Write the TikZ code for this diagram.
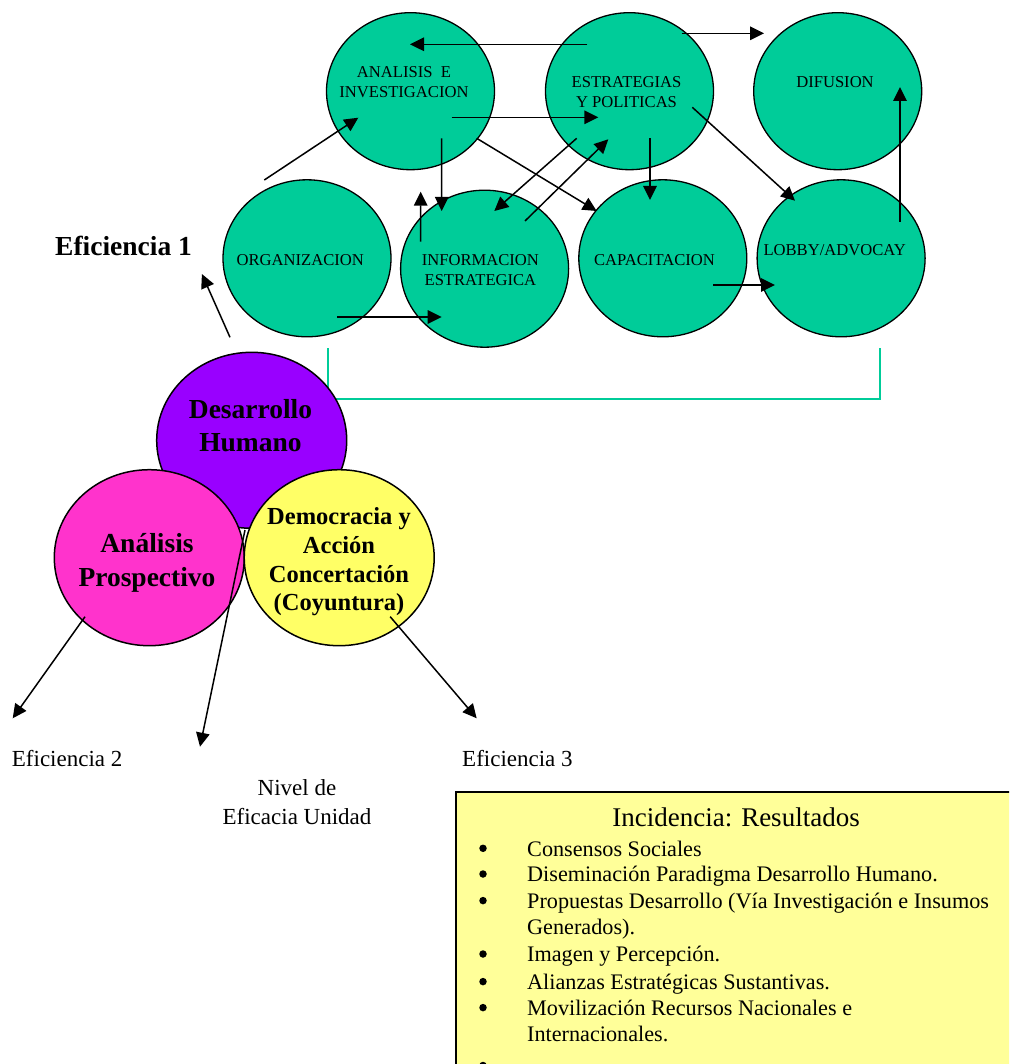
\documentclass[tikz,border=0pt]{standalone}
\usepackage{fontspec}
\setmainfont{Liberation Serif}
\usetikzlibrary{arrows.meta,shapes.geometric}
\definecolor{tealc}{HTML}{00CC99}
\definecolor{purpc}{HTML}{9900FF}
\definecolor{pinkc}{HTML}{FF33CC}
\definecolor{yelc}{HTML}{FFFF66}
\definecolor{boxc}{HTML}{FFFF99}
\begin{document}
\begin{tikzpicture}[x=1pt,y=-1pt,
  gc/.style={ellipse, draw=black, line width=1.3pt, fill=tealc, minimum width=168, minimum height=157, inner sep=0},
  vc/.style={ellipse, draw=black, line width=1.5pt, minimum width=190, minimum height=176, inner sep=0},
  gt/.style={font=\fontsize{16.6}{20}\selectfont, align=center, inner sep=0, anchor=base},
  vt/.style={font=\bfseries\fontsize{27.5}{33.5}\selectfont, align=center, inner sep=0, anchor=base},
  lab/.style={font=\fontsize{23}{28.5}\selectfont, inner sep=0, anchor=base west},
  itm/.style={font=\fontsize{22.2}{26.4}\selectfont, inner sep=0, anchor=base west},
  bul/.style={circle, fill=black, inner sep=0, minimum size=7.5},
  arr/.style={line width=1.5pt, -{Triangle[length=14pt,width=13.5pt]}},
  brk/.style={draw=tealc, line width=1.8pt}]
\useasboundingbox (0,0) rectangle (1009,1064);
\clip (0,0) rectangle (1009,1064);

% green circles
\node[gc] (ana) at (410.5,91.2) {};
\node[gc] (est) at (629.5,91.2) {};
\node[gc] (dif) at (837.7,91.2) {};
\node[gc] (org) at (307,258.3) {};
\node[gc] (inf) at (484.6,268.7) {};
\node[gc] (cap) at (662.8,258.3) {};
\node[gc] (lob) at (841.1,258.3) {};

\node[gt] (tana) at (404,97.7) {ANALISIS\ \ E\\INVESTIGACION};
\node[gt] (test) at (626.5,107.7) {ESTRATEGIAS\\Y POLITICAS};
\node[gt] (tdif) at (835,87.3) {DIFUSION};
\node[gt] (torg) at (300.3,265.7) {ORGANIZACION};
\node[gt] (tinf) at (480.4,285) {INFORMACION\\ESTRATEGICA};
\node[gt] (tcap) at (654.5,265.7) {CAPACITACION};
\node[gt] (tlob) at (834.7,255.7) {LOBBY/ADVOCAY};

% arrows among green circles
\draw[arr] ([shift={(-42.2,-46.9)}]est.center) -- ([shift={(-0.5,-46.9)}]ana.center);
\draw[arr] ([shift={(41.2,26.1)}]ana.center) -- ([shift={(-31.2,26.1)}]est.center);
\draw[arr] ([shift={(-42.7,-78.3)}]org.center) -- ([shift={(-52.2,26.5)}]ana.center);
\draw[arr] ([shift={(31.2,47.1)}]ana.center) -- ([shift={(-42.9,-57.7)}]inf.center);
\draw[arr] ([shift={(66.2,47.1)}]ana.center) -- ([shift={(-66.1,-47.3)}]cap.center);
\draw[arr] ([shift={(-52.8,47.1)}]est.center) -- ([shift={(9.7,-57.7)}]inf.center);
\draw[arr] ([shift={(40.4,-47.7)}]inf.center) -- ([shift={(-21.2,48.1)}]est.center);
\draw[arr] ([shift={(20.5,47.1)}]est.center) -- ([shift={(-12.8,-58.3)}]cap.center);
\draw[arr] ([shift={(-63.9,-27)}]inf.center) -- ([shift={(10.2,100.5)}]ana.center);
\draw[arr] ([shift={(52.2,-57.9)}]est.center) -- ([shift={(-73.7,-57.9)}]dif.center);
\draw[arr] ([shift={(62.8,16.1)}]est.center) -- ([shift={(-46.1,-57.6)}]lob.center);
\draw[arr] ([shift={(58.9,-36.6)}]lob.center) -- ([shift={(62.3,-4.2)}]dif.center);
\draw[arr] ([shift={(30,58.7)}]org.center) -- ([shift={(-43,48.3)}]inf.center);
\draw[arr] ([shift={(50.2,26.7)}]cap.center) -- ([shift={(-66.1,26.7)}]lob.center);

% teal bracket
\draw[brk] ([shift={(21,89.7)}]org.center) -- ++(0,51) -| ([shift={(38.9,89.7)}]lob.center);

% Venn circles
\node[vc, fill=purpc] (des) at (251.7,440.3) {};
\node[vc, fill=pinkc] (anp) at (149.3,557.7) {};
\node[vc, fill=yelc] (dem) at (339.2,557.7) {};

\node[vt] (tdes) at (250.5,451.7) {Desarrollo\\Humano};
\node[vt] (tanp) at (147,586) {Análisis\\Prospectivo};
\node[vt, font=\bfseries\fontsize{24.5}{28.6}\selectfont] (tdem) at (339,610.7) {Democracia y\\Acción\\Concertación\\(Coyuntura)};

% labels
\node[lab, font=\bfseries\fontsize{27.5}{33}\selectfont] (eff1) at (55,255.7) {Eficiencia 1};
\node[lab] (eff2) at (11.7,766) {Eficiencia 2};
\node[lab] (eff3) at (462,766) {Eficiencia 3};
\node[font=\fontsize{23}{28.5}\selectfont, align=center, inner sep=0, anchor=base] (niv) at (297,824) {Nivel de\\Eficacia Unidad};

\draw[arr] ([shift={(-21.7,-103)}]des.center) -- ([shift={(9.8,18.3)}]eff1.base east);
\draw[arr] ([shift={(-64.3,59)}]anp.center) -- ([shift={(1,-47.7)}]eff2.base west);
\draw[arr] ([shift={(-6.7,89.7)}]des.center) -- ([shift={(-97,-77.3)}]niv.base);
\draw[arr] ([shift={(51,59)}]dem.center) -- ([shift={(14.7,-47.7)}]eff3.base west);

% results box
\node[draw=black, line width=1.5pt, fill=boxc, anchor=north west, minimum width=600, minimum height=320, inner sep=0] (box) at (455,791) {};
\node[font=\fontsize{27}{32}\selectfont, inner sep=0, anchor=base] (ttl) at (736,826) {Incidencia: Resultados};
\node[bul] (b1) at (483,848.3) {};
\node[itm] (i1) at (527,856) {Consensos Sociales};
\node[bul] (b2) at (483,874) {};
\node[itm] (i2) at (527,881.7) {Diseminación Paradigma Desarrollo Humano.};
\node[bul] (b3) at (483,900.6) {};
\node[itm] (i3) at (527,908.3) {Propuestas Desarrollo (Vía Investigación e Insumos};
\node[itm] (i3b) at (527,934.3) {Generados).};
\node[bul] (b4) at (483,954) {};
\node[itm] (i4) at (527,961.7) {Imagen y Percepción.};
\node[bul] (b5) at (483,981.6) {};
\node[itm] (i5) at (527,989.3) {Alianzas Estratégicas Sustantivas.};
\node[bul] (b6) at (483,1007.6) {};
\node[itm] (i6) at (527,1015.3) {Movilización Recursos Nacionales e};
\node[itm] (i6b) at (527,1041) {Internacionales.};
\node[bul] (b7) at (483,1065.5) {};
\end{tikzpicture}
\end{document}
